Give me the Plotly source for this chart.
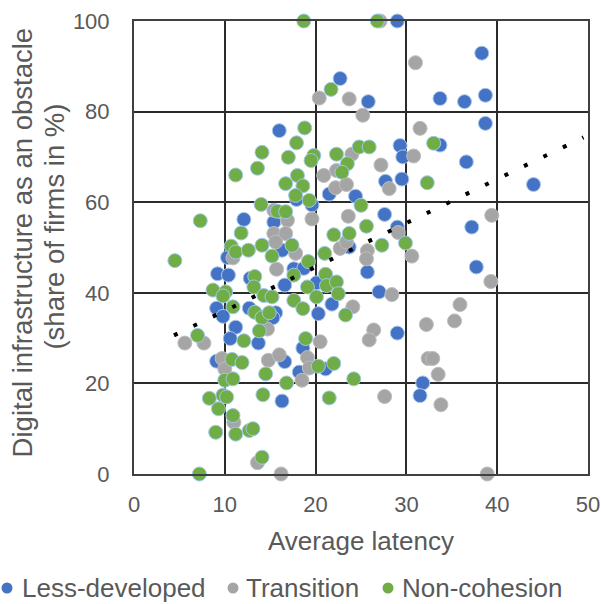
import plotly.graph_objects as go

FONT = "Liberation Sans, Arial, sans-serif"
TXT = "#595959"

# Less-developed (blue)
ld_x = [29.0, 38.3, 33.7, 36.4, 38.7, 25.8, 38.7, 29.3, 29.6, 33.7, 36.6, 27.7, 29.5, 44.0,
        27.6, 29.0, 37.2, 37.7, 25.7, 27.0, 29.0, 31.8, 31.5, 22.7, 16.0, 21.5, 24.4, 17.9,
        19.6, 12.1, 15.4, 16.3, 9.2, 10.4, 12.8, 17.6, 18.7, 16.6, 20.1, 21.8, 23.7, 9.1,
        9.8, 12.7, 15.6, 15.3, 11.2, 10.6, 13.7, 18.6, 20.3, 9.1, 16.6, 18.2, 21.1, 16.3,
        10.3]
ld_y = [100, 92.9, 82.9, 82.2, 83.6, 82.2, 77.4, 72.5, 70.0, 72.6, 68.9, 64.6, 65.1, 63.9,
        57.3, 54.5, 54.5, 45.7, 44.6, 40.2, 31.1, 20.1, 17.3, 87.3, 75.8, 61.8, 61.3, 60.6,
        59.4, 56.2, 55.6, 49.4, 44.2, 43.9, 43.2, 45.3, 45.4, 41.7, 42.2, 37.5, 50.1, 36.6,
        34.8, 36.6, 35.6, 34.5, 32.4, 29.9, 28.9, 27.8, 35.4, 24.9, 24.8, 22.5, 23.2, 16.1,
        47.8]

# Transition (gray)
tr_x = [27.1, 31.0, 25.2, 31.5, 30.8, 27.2, 28.1, 39.4, 39.3, 30.6, 28.4, 35.9, 35.3, 32.2,
        26.4, 25.9, 32.4, 32.9, 33.5, 27.6, 33.8, 38.9, 25.7, 25.6, 20.4, 23.7, 24.0, 22.3,
        20.9, 22.2, 23.4, 15.4, 16.9, 19.6, 23.6, 15.4, 16.7, 10.9, 15.6, 17.8, 22.7, 23.4,
        15.7, 24.1, 14.7, 5.6, 7.7, 20.5, 9.7, 10.0, 14.8, 16.0, 19.1, 19.3, 18.5, 11.0,
        13.6, 16.2, 29.1]
tr_y = [100, 90.8, 79.2, 76.3, 70.2, 68.2, 63.0, 57.1, 42.5, 48.1, 39.6, 37.4, 33.8, 33.0,
        31.8, 29.6, 25.5, 25.5, 22.0, 17.1, 15.3, 0, 49.3, 47.5, 83.0, 82.8, 70.6, 67.0,
        65.9, 63.2, 63.9, 58.2, 56.0, 56.3, 56.9, 53.1, 53.1, 47.7, 51.2, 48.7, 49.8, 51.2,
        45.2, 36.9, 32.0, 28.9, 28.9, 29.2, 25.5, 23.2, 25.1, 26.3, 25.7, 23.4, 20.7, 11.4,
        2.5, 0, 53.3]

# Non-cohesion (green)
nc_x = [26.8, 18.7, 21.7, 18.8, 17.9, 14.1, 17.0, 19.8, 19.5, 22.3, 24.8, 25.9, 33.0, 13.6,
        11.2, 23.5, 22.9, 18.0, 16.7, 18.6, 17.8, 19.3, 14.0, 7.3, 15.8, 16.7, 11.8, 22.0,
        23.7, 25.6, 25.0, 32.3, 27.3, 29.9, 4.5, 10.7, 11.2, 12.6, 14.1, 15.2, 17.4, 19.2,
        21.0, 13.3, 17.6, 21.1, 19.1, 20.1, 21.2, 22.3, 22.5, 23.3, 8.7, 10.1, 9.8, 13.2,
        14.3, 15.2, 10.9, 13.3, 14.1, 14.9, 13.8, 7.0, 12.1, 18.9, 17.6, 18.6, 10.8, 11.9,
        10.0, 10.9, 14.5, 16.8, 20.3, 22.0, 24.2, 14.2, 21.5, 8.3, 9.8, 10.2, 9.3, 10.9,
        9.0, 11.2, 12.7, 13.1, 14.1, 7.2]
nc_y = [100, 100, 84.9, 76.4, 73.1, 71.0, 69.9, 70.3, 69.2, 70.6, 72.2, 72.2, 73.0, 67.5,
        66.0, 68.5, 66.6, 65.9, 64.1, 63.6, 61.5, 60.4, 59.5, 55.9, 58.0, 57.9, 53.2, 52.8,
        53.1, 54.7, 59.3, 64.3, 50.5, 51.0, 47.1, 50.3, 49.0, 49.4, 50.5, 48.1, 50.5, 46.9,
        48.7, 43.6, 43.9, 44.1, 41.3, 39.1, 41.6, 42.4, 39.8, 35.1, 40.6, 40.2, 39.3, 41.3,
        39.4, 39.1, 36.9, 35.7, 34.5, 35.6, 31.6, 30.6, 29.4, 29.9, 38.3, 36.5, 25.3, 24.6,
        20.7, 21.0, 22.1, 20.1, 23.8, 24.4, 21.0, 17.5, 16.8, 16.7, 17.4, 17.0, 14.4, 12.9,
        9.2, 8.8, 9.6, 10.0, 3.7, 0]

# Linear trend (dotted)
trend_x = [4.4, 49.5]
trend_y = [30.6, 74.3]

series = [
    ("Less-developed", ld_x, ld_y, "#4472C4", "rgba(170,200,235,1)"),
    ("Transition", tr_x, tr_y, "#A5A5A5", "rgba(190,190,190,1)"),
    ("Non-cohesion", nc_x, nc_y, "#70AD47", "rgba(160,200,235,1)"),
]

fig = go.Figure()
for name, xs, ys, col, edge in series:
    fig.add_trace(go.Scatter(
        x=xs, y=ys, mode="markers", name=name, cliponaxis=False,
        marker=dict(size=14, color=col, line=dict(color=edge, width=1)),
        showlegend=False,
    ))

fig.add_trace(go.Scatter(
    x=trend_x, y=trend_y, mode="lines", name="Linear trend", showlegend=False,
    line=dict(color="black", width=4, dash="4px,17.6px"),
))

axis_common = dict(
    showgrid=True, gridcolor="#2b2b2b", gridwidth=2,
    showline=True, linecolor="#404040", linewidth=2, mirror=True,
    zeroline=False, ticks="", automargin=False,
    tickfont=dict(family=FONT, size=22, color=TXT),
)

fig.update_xaxes(range=[0, 50], dtick=10, tick0=0, ticklabelstandoff=10, **axis_common)
fig.update_yaxes(range=[0, 100], dtick=20, tick0=0, ticklabelstandoff=18, **axis_common)

PW = 454.0   # plot width in px (for placing legend entries)
PH = 453.0

def px_x(px):
    return (px - 134) / PW

def px_y(py):
    return (474 - py) / PH

ann = []
ann.append(dict(text="Average latency", x=0.5, y=-0.147, xref="paper", yref="paper",
                xanchor="center", yanchor="middle", showarrow=False,
                font=dict(family=FONT, size=26, color=TXT)))
ann.append(dict(text="Digital infrastructure as an obstacle", x=-0.2448, y=0.511,
                xref="paper", yref="paper", xanchor="center", yanchor="middle",
                textangle=-90, showarrow=False, font=dict(family=FONT, size=27.5, color=TXT)))
ann.append(dict(text="(share of firms in %)", x=-0.1742, y=0.546,
                xref="paper", yref="paper", xanchor="center", yanchor="middle",
                textangle=-90, showarrow=False, font=dict(family=FONT, size=27.5, color=TXT)))

# legend entries: (label, colour, dot centre px, text start px)
legend_items = [("Less-developed", "#4472C4", 7, 20),
                ("Transition", "#A5A5A5", 233, 244),
                ("Non-cohesion", "#70AD47", 388, 400)]
shapes = []
for label, col, dot_px, text_px in legend_items:
    shapes.append(dict(
        type="circle", xref="paper", yref="paper",
        xsizemode="pixel", ysizemode="pixel",
        xanchor=px_x(dot_px), yanchor=px_y(588),
        x0=-5.5, x1=5.5, y0=-5.5, y1=5.5,
        fillcolor=col, line=dict(width=0), layer="above"))
    ann.append(dict(
        text=label, x=px_x(text_px), y=px_y(588), xref="paper", yref="paper",
        xanchor="left", yanchor="middle", showarrow=False,
        font=dict(family=FONT, size=26, color=TXT)))

fig.update_layout(
    width=601, height=604,
    margin=dict(l=134, r=13, t=21, b=130, pad=0),
    paper_bgcolor="white", plot_bgcolor="white",
    showlegend=False, annotations=ann, shapes=shapes,
    font=dict(family=FONT, color=TXT),
)

fig.write_html("out.html")
